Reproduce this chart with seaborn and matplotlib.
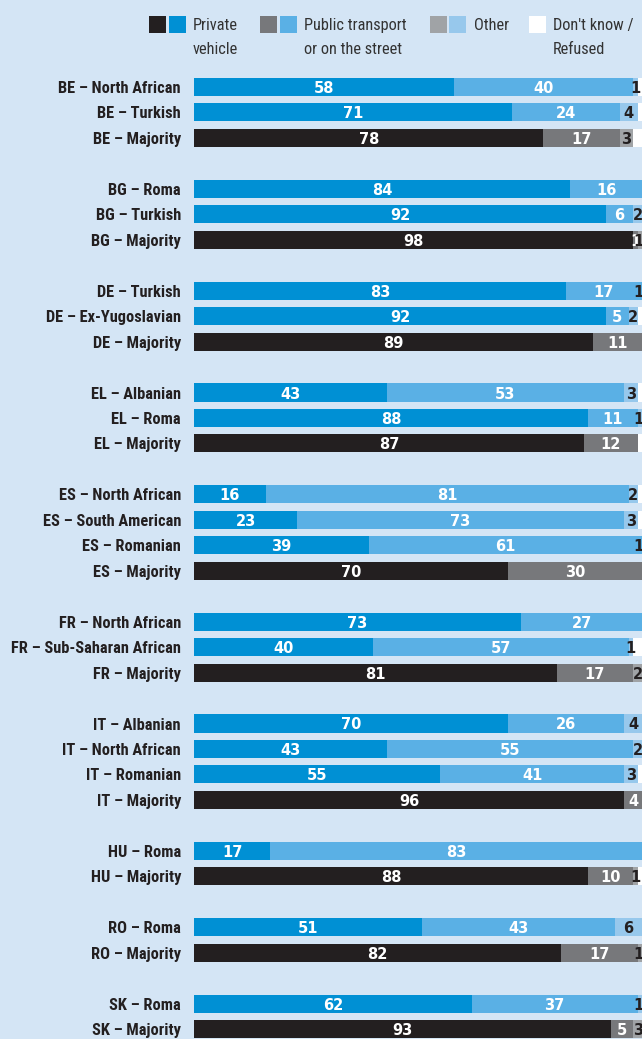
import numpy as np
import pandas as pd
import seaborn as sns
import matplotlib
import matplotlib.pyplot as plt
from matplotlib import font_manager
from matplotlib.patches import Rectangle
matplotlib.use('Agg')

# Dane z wykresu (%)
labels = [
    "BE – North African", "BE – Turkish", "BE – Majority",
    "BG – Roma", "BG – Turkish", "BG – Majority",
    "DE – Turkish", "DE – Ex-Yugoslavian", "DE – Majority",
    "EL – Albanian", "EL – Roma", "EL – Majority",
    "ES – North African", "ES – South American", "ES – Romanian", "ES – Majority",
    "FR – North African", "FR – Sub-Saharan African", "FR – Majority",
    "IT – Albanian", "IT – North African", "IT – Romanian", "IT – Majority",
    "HU – Roma", "HU – Majority",
    "RO – Roma", "RO – Majority",
    "SK – Roma", "SK – Majority",
]
private = [58, 71, 78, 84, 92, 98, 83, 92, 89, 43, 88, 87, 16, 23, 39, 70,
           73, 40, 81, 70, 43, 55, 96, 17, 88, 51, 82, 62, 93]
public = [40, 24, 17, 16, 6, 1, 17, 5, 11, 53, 11, 12, 81, 73, 61, 30,
          27, 57, 17, 26, 55, 41, 4, 83, 10, 43, 17, 37, 5]
other = [1, 4, 3, 0, 2, 1, 1, 2, 0, 3, 1, 0, 2, 3, 1, 0,
         0, 1, 2, 4, 2, 3, 0, 0, 1, 6, 1, 1, 3]
dont_know = [1, 1, 2, 0, 0, 0, 0, 1, 0, 1, 0, 1, 1, 1, 0, 0,
             0, 2, 0, 0, 0, 1, 0, 0, 1, 0, 0, 0, 0]

# Pozycje wierszy z przerwą między krajami
pos = []
y = 0
prev = None
for lab in labels:
    g = lab.split(" ")[0]
    if prev is not None and g != prev:
        y += 1
    pos.append(y)
    y += 1
    prev = g

df = pd.DataFrame({"label": labels, "pos": pos, "private": private,
                   "public": public, "other": other, "dk": dont_know})
df["kind"] = np.where(df["label"].str.contains("Majority"), "majority", "minority")
df["c1"] = df["private"]
df["c2"] = df["c1"] + df["public"]
df["c3"] = df["c2"] + df["other"]
df["c4"] = df["c3"] + df["dk"]

bg = "#d4e5f5"
pal_private = {"majority": "#231f20", "minority": "#0090d4"}
pal_public = {"majority": "#77787b", "minority": "#5ab0e5"}
pal_other = {"majority": "#a0a3a6", "minority": "#97c8ec"}
pal_dk = {"majority": "#ffffff", "minority": "#ffffff"}

# Wąska czcionka, jeśli jest dostępna
names = {f.name for f in font_manager.fontManager.ttflist}
narrow = None
for cand in ["Liberation Sans Narrow", "DejaVu Sans Condensed", "Roboto Condensed", "Open Sans Condensed"]:
    if cand in names:
        narrow = cand
        break
if narrow:
    lab_font = dict(family=[narrow, "DejaVu Sans"])
    lab_size, leg_size = 11.8, 11.8
else:
    lab_font = dict(family=["Roboto", "DejaVu Sans"], stretch="condensed")
    lab_size, leg_size = 10.8, 10.8

sns.set_theme(style="white")
fig = plt.figure(figsize=(6.42, 10.39), dpi=100, facecolor=bg)
ax = fig.add_axes([194 / 642, 0, 448 / 642, 1])
ax.set_facecolor(bg)

# Słupki skumulowane - rysowane od najdłuższego
for col, pal in [("c4", pal_dk), ("c3", pal_other), ("c2", pal_public), ("c1", pal_private)]:
    sns.barplot(data=df, x=col, y="pos", hue="kind", palette=pal, orient="h",
                native_scale=True, dodge=False, width=0.71, linewidth=0,
                saturation=1, legend=False, ax=ax)

ax.set_xlim(0, 100)
ax.set_ylim(37 + 10 / 25.46, -87 / 25.46)
ax.set_xlabel("")
ax.set_ylabel("")
ax.set_xticks([])
ax.set_yticks([])
for s in ax.spines.values():
    s.set_visible(False)

# Etykiety wartości
dark = "#231f20"
for _, r in df.iterrows():
    left = 0
    for col, colr in [("private", "white"), ("public", "white"), ("other", dark)]:
        v = r[col]
        if v > 0:
            xc = min(left + v / 2, 99.2)
            ax.text(xc, r["pos"], str(v), ha="center", va="center_baseline",
                    color=colr, fontsize=10.5, fontweight="bold", family="DejaVu Sans")
        left += v
    fig.text(181 / 642, 1 - (87 + r["pos"] * 25.46) / 1039, r["label"], ha="right",
             va="center_baseline", fontsize=lab_size, fontweight="bold", color=dark, **lab_font)

# Legenda
W, H = 642, 1039
def sq(x, c):
    fig.patches.append(Rectangle((x / W, 1 - 33 / H), 17 / W, 17 / H, transform=fig.transFigure,
                                 facecolor=c, edgecolor="none"))

leg = [([149, 169], ["#231f20", "#0090d4"], 193, "Private\nvehicle"),
       ([260, 280], ["#77787b", "#5ab0e5"], 304, "Public transport\nor on the street"),
       ([430, 449], ["#a0a3a6", "#97c8ec"], 474, "Other"),
       ([529], ["#ffffff"], 553, "Don't know /\nRefused")]
for xs, cs, tx, txt in leg:
    for x0, c in zip(xs, cs):
        sq(x0, c)
    fig.text(tx / W, 1 - 18 / H, txt, ha="left", va="top", fontsize=leg_size,
             color="#333333", linespacing=1.75, **lab_font)

plt.savefig("out.png", dpi=100, facecolor=bg)
